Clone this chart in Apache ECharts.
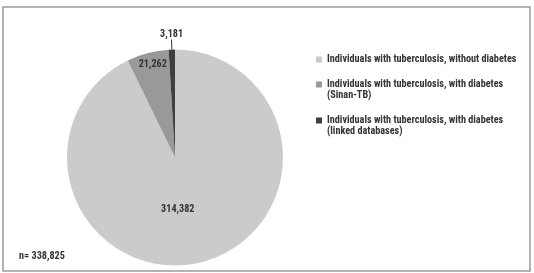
<!DOCTYPE html>
<html>
<head>
<meta charset="utf-8">
<script src="https://cdn.jsdelivr.net/npm/echarts@6/dist/echarts.min.js"></script>
<style>
  html, body { margin: 0; padding: 0; background: #fff; }
  #chart { width: 534px; height: 273px; }
</style>
</head>
<body>
<div id="chart"></div>
<script>
// groups, clockwise from 12 o'clock
const categories = [
  'Individuals with tuberculosis, without diabetes',
  'Individuals with tuberculosis, with diabetes\n(Sinan-TB)',
  'Individuals with tuberculosis, with diabetes\n(linked databases)'
];
const values = [314382, 21262, 3181];
const colors = ['#cbcbcb', '#999999', '#3f3f3f'];
const totalLabel = 'n= 338,825';

const fontFamily = '"Roboto Condensed", "Liberation Sans Narrow", sans-serif';
const fontSize = 10.2;
const fmt = (v) => v.toLocaleString('en-US');

const chart = echarts.init(document.getElementById('chart'));

const center = [175, 157.5];
const radius = 108;

const option = {
  animation: false,
  textStyle: { fontFamily: fontFamily },
  legend: {
    orient: 'vertical',
    left: 316,
    top: 54,
    padding: 0,
    itemWidth: 6,
    itemHeight: 6,
    itemGap: 3,
    icon: 'rect',
    selectedMode: false,
    // empty first line keeps the marker level with the first text line
    formatter: (name) => (name.indexOf('\n') >= 0 ? '\n' + name : name),
    textStyle: {
      fontFamily: fontFamily,
      fontWeight: 'bold',
      fontSize: fontSize,
      lineHeight: 11,
      color: '#333'
    },
    data: categories
  },
  graphic: [
    {
      type: 'rect',
      shape: { x: 3, y: 7, width: 527, height: 264 },
      style: { fill: 'none', stroke: '#9a9a9a', lineWidth: 1.5 },
      silent: true
    },
    {
      type: 'text',
      silent: true,
      style: {
        x: 19,
        y: 256.5,
        text: totalLabel,
        verticalAlign: 'middle',
        font: 'bold ' + fontSize + 'px ' + fontFamily,
        fill: '#333'
      }
    }
  ],
  series: [
    {
      type: 'pie',
      center: center,
      radius: radius,
      startAngle: 90,
      clockwise: true,
      avoidLabelOverlap: false,
      emphasis: { disabled: true },
      itemStyle: { borderWidth: 0 },
      label: {
        fontFamily: fontFamily,
        fontWeight: 'bold',
        fontSize: fontSize,
        color: '#333',
        formatter: (p) => fmt(p.value)
      },
      labelLayout: function (params) {
        if (params.dataIndex === 0) {
          return { dx: -10, dy: -4 };
        }
        if (params.dataIndex === 2 && params.labelLinePoints) {
          const p = params.labelLinePoints[1];
          return { x: p[0], y: p[1] - 1, align: 'center', verticalAlign: 'bottom' };
        }
      },
      data: categories.map((c, i) => {
        const item = { name: c, value: values[i], itemStyle: { color: colors[i] } };
        if (i === 0) {
          item.label = { show: true, position: 'inside' };
        } else if (i === 1) {
          item.label = { show: false };
        } else {
          item.label = { show: true, position: 'outside', distanceToLabelLine: 0 };
          item.labelLine = {
            show: true,
            length: 9,
            length2: 0,
            lineStyle: { color: '#333', width: 1 }
          };
        }
        return item;
      })
    },
    {
      // transparent ring used only to place the 21,262 label near the rim
      type: 'pie',
      center: center,
      radius: [85, radius],
      startAngle: 90,
      clockwise: true,
      silent: true,
      emphasis: { disabled: true },
      itemStyle: { color: 'rgba(0,0,0,0)', borderWidth: 0 },
      label: {
        show: false,
        position: 'inside',
        fontFamily: fontFamily,
        fontWeight: 'bold',
        fontSize: fontSize,
        color: '#333',
        formatter: (p) => fmt(p.value)
      },
      labelLayout: function () {
        return { dx: 3, dy: 3 };
      },
      data: values.map((v, i) => ({
        name: 'ring' + i,
        value: v,
        label: { show: i === 1 }
      }))
    }
  ]
};

chart.setOption(option);
</script>
</body>
</html>
